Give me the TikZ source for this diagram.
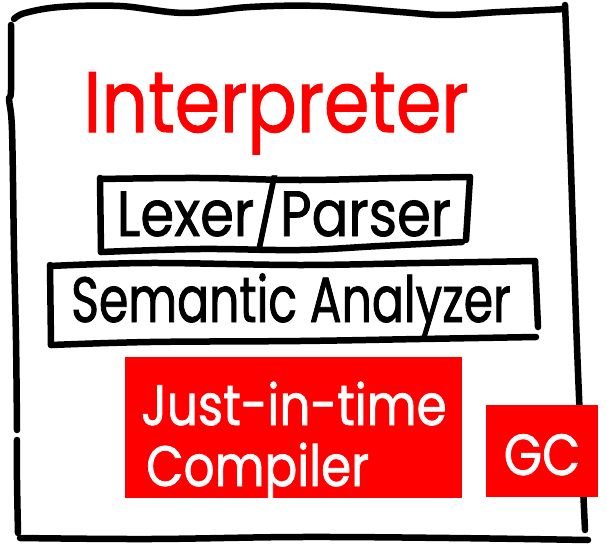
\documentclass[tikz,border=0pt]{standalone}
\usepackage{fontspec}
\newfontfamily\hand[FakeStretch=0.85,FakeBold=1.2]{Poppins}
\newfontfamily\handnarrow[FakeStretch=0.74,FakeBold=1.2]{Poppins}
\definecolor{jitred}{RGB}{255,0,0}
\tikzset{
  pen/.style={line width=6.5pt, line cap=round, line join=round, black},
  redblock/.style={fill=jitred, draw=none},
  txt/.style={inner sep=0pt, anchor=base},
}
\begin{document}
\begin{tikzpicture}[x=1pt,y=-1pt]
\useasboundingbox (0,0) rectangle (607,543);
\fill[white] (0,0) rectangle (607,543);

% outer frame, drawn freehand
\draw[pen] plot[smooth,tension=0.6] coordinates {(14,19) (25,13) (60,7) (120,6) (185,13) (250,7) (320,6) (400,12) (445,15) (500,12) (545,10) (565,9)};
\draw[pen] plot[smooth,tension=0.6] coordinates {(565,5) (568,80) (572,200) (576,320) (580,420) (585,530)};
\draw[pen] plot[smooth,tension=0.6] coordinates {(11,25) (11,90) (9,100) (12,130) (14,250) (16,340) (17,430)};
\draw[pen] plot[smooth,tension=0.6] coordinates {(17,440) (17,480) (18,533)};
\draw[pen] plot[smooth,tension=0.6] coordinates {(20,538) (150,539) (300,537) (450,538) (588,540)};

% title
\node[txt, text=jitred, font=\hand\fontsize{86}{86}\selectfont] (title) at (276,132) {Interpreter};

% front-end boxes
\draw[pen] (100,178) -- (101,252);
\draw[pen] plot[smooth,tension=0.6] coordinates {(100,179) (200,178) (300,180) (400,178) (470,177)};
\draw[pen] (470,177) -- (466,240);
\draw[pen] plot[smooth,tension=0.6] coordinates {(462,242) (380,246) (300,250) (200,249) (101,252)};
\node[txt, font=\hand\fontsize{64}{64}\selectfont] (lexer) at (284,236) {Lexer/Parser};

\draw[pen] (50,265) -- (51,345);
\draw[pen] plot[smooth,tension=0.6] coordinates {(50,266) (150,263) (300,265) (420,263) (535,261)};
\draw[pen] (535,261) -- (538,327);
\draw[pen] plot[smooth,tension=0.6] coordinates {(536,337) (420,339) (300,341) (150,342) (51,345)};
\node[txt, font=\handnarrow\fontsize{64}{64}\selectfont] (sema) at (291,322) {Semantic Analyzer};

% red blocks
\fill[redblock] (125,357) rectangle (462,498);
\node[txt, anchor=base west, text=white, font=\hand\fontsize{57}{57}\selectfont] (jit1) at (141,425) {Just-in-time};
\node[txt, anchor=base west, text=white, font=\hand\fontsize{57}{57}\selectfont] (jit2) at (146,486) {Compiler};

\fill[redblock] (486,405) rectangle (598,497);
\node[txt, text=white, font=\hand\fontsize{58}{58}\selectfont] (gc) at (542,475) {GC};
\end{tikzpicture}
\end{document}
